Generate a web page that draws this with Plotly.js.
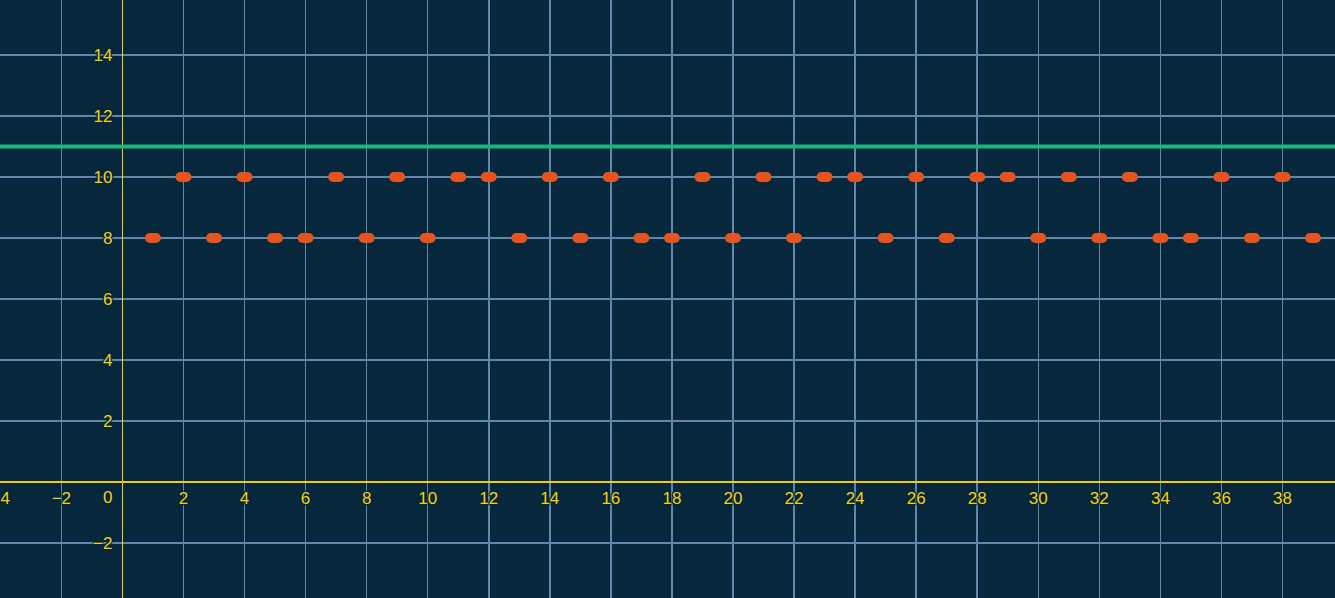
<!DOCTYPE html>
<html>
<head>
<meta charset="utf-8">
<script src="https://cdn.plot.ly/plotly-3.0.1.min.js"></script>
<style>
html,body{margin:0;padding:0;background:#07273d;}
#chart{width:1335px;height:598px;}
.scatterlayer .point{stroke-linecap:round;}
</style>
</head>
<body>
<div id="chart"></div>
<script>
// Data
const xValues = [1,2,3,4,5,6,7,8,9,10,11,12,13,14,15,16,17,18,19,20,21,22,23,24,25,26,27,28,29,30,31,32,33,34,35,36,37,38,39];
const yValues = [8,10,8,10,8,8,10,8,10,8,10,10,8,10,8,10,8,8,10,8,10,8,10,10,8,10,8,10,10,8,10,8,10,8,8,10,8,10,8];
const thresholdY = 11;
const xTickVals = [-4,-2,2,4,6,8,10,12,14,16,18,20,22,24,26,28,30,32,34,36,38];
const yTickVals = [-2,2,4,6,8,10,12,14];
const xRange = [-4.01, 39.72];
const yRange = [-3.80, 15.80];

const bg = '#07273d';
const gridColor = '#5f88ab';
const axisColor = '#f2cf00';
const labelColor = '#f5d20a';
const pointColor = '#e5531f';
const lineColor = '#1ab87a';
const shadow = '1px 1px 1px #07273d, -1px -1px 1px #07273d, 1px -1px 1px #07273d, -1px 1px 1px #07273d';
const font = {family:'"Liberation Sans", Arial, sans-serif', size:17, color:labelColor, shadow:shadow};

const trace = {
  x: xValues, y: yValues, type:'scatter', mode:'markers',
  marker:{symbol:'line-ew', size:4.3, color:pointColor, line:{color:pointColor, width:10}},
  hoverinfo:'x+y', showlegend:false
};

const layout = {
  width:1335, height:598,
  margin:{l:0,r:0,t:0,b:0,pad:0},
  paper_bgcolor:bg, plot_bgcolor:bg,
  font: font,
  showlegend:false,
  xaxis:{
    range:xRange, tickvals:xTickVals, ticks:'', showgrid:true, gridcolor:gridColor, gridwidth:1.5,
    zeroline:true, zerolinecolor:axisColor, zerolinewidth:1.5,
    anchor:'free', position:(0-yRange[0])/(yRange[1]-yRange[0]),
    tickfont:font, fixedrange:true, showline:false, ticklabelstandoff:4, ticklabeloverflow:'allow'
  },
  yaxis:{
    range:yRange, tickvals:yTickVals, ticks:'', showgrid:true, gridcolor:gridColor, gridwidth:1.5,
    zeroline:true, zerolinecolor:axisColor, zerolinewidth:1.5,
    anchor:'free', position:(0-xRange[0])/(xRange[1]-xRange[0]),
    tickfont:font, fixedrange:true, showline:false, ticklabelstandoff:10
  },
  shapes:[{type:'line', xref:'paper', x0:0, x1:1, yref:'y', y0:thresholdY, y1:thresholdY,
    line:{color:lineColor, width:4}, layer:'above'}],
  annotations:[{x:0, y:0, xref:'x', yref:'y', text:'0', showarrow:false, xshift:-15, yshift:-15, font:font}]
};

Plotly.newPlot('chart', [trace], layout, {displayModeBar:false, staticPlot:true});
</script>
</body>
</html>
